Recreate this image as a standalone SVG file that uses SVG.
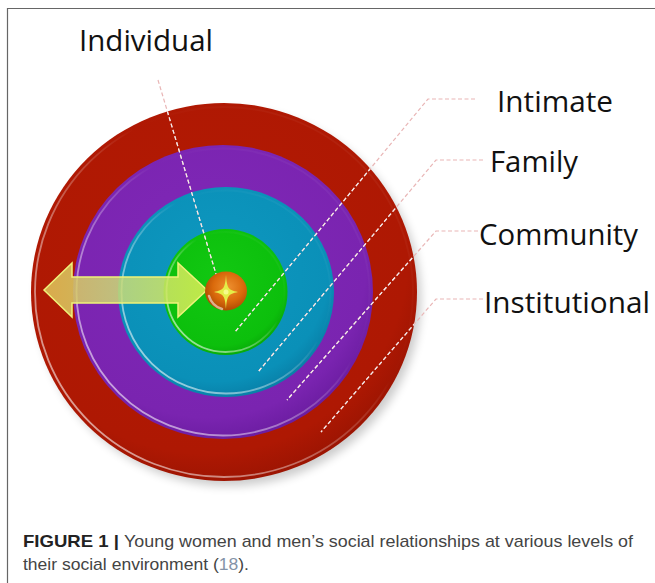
<svg xmlns="http://www.w3.org/2000/svg" width="655" height="583" viewBox="0 0 655 583">
<style>
.lbl{font-family:"Open Sans","Liberation Sans",sans-serif;font-size:29px;fill:#111;}
.cap{font-family:"Liberation Sans",Arial,sans-serif;font-size:17px;fill:#444;}
.capb{font-family:"Liberation Sans",Arial,sans-serif;font-size:17px;font-weight:bold;fill:#222;}
.dash{fill:none;stroke:#e9b6b6;stroke-width:1.2;stroke-dasharray:4 2.5;}
.dashw{fill:none;stroke:#f3ecec;stroke-width:1.2;stroke-dasharray:4 2.5;}
.rim{fill:none;stroke:url(#rimGrad);stroke-width:1.8;}
</style>
<defs>
<radialGradient id="gRed" cx="0.45" cy="0.4" r="0.62">
<stop offset="0" stop-color="#b41a03"/><stop offset="0.85" stop-color="#ae1803"/><stop offset="1" stop-color="#9a1402"/>
</radialGradient>
<radialGradient id="gPurple" cx="0.45" cy="0.4" r="0.62">
<stop offset="0" stop-color="#8028b8"/><stop offset="0.85" stop-color="#7a24b0"/><stop offset="1" stop-color="#6a1ca0"/>
</radialGradient>
<radialGradient id="gBlue" cx="0.45" cy="0.4" r="0.62">
<stop offset="0" stop-color="#0e98c0"/><stop offset="0.85" stop-color="#0a90b8"/><stop offset="1" stop-color="#087ea6"/>
</radialGradient>
<radialGradient id="gGreen" cx="0.45" cy="0.4" r="0.62">
<stop offset="0" stop-color="#12c812"/><stop offset="0.85" stop-color="#0cbf0c"/><stop offset="1" stop-color="#08a808"/>
</radialGradient>
<radialGradient id="gOrange" cx="0.55" cy="0.4" r="0.6">
<stop offset="0" stop-color="#ee9030"/><stop offset="0.6" stop-color="#da6a0c"/><stop offset="1" stop-color="#b04a02"/>
</radialGradient>
<linearGradient id="rimGrad" x1="0" y1="1" x2="1" y2="0">
<stop offset="0" stop-color="#fff" stop-opacity="0.7"/>
<stop offset="0.35" stop-color="#fff" stop-opacity="0.4"/>
<stop offset="0.6" stop-color="#fff" stop-opacity="0"/>
<stop offset="0.9" stop-color="#fff" stop-opacity="0.05"/>
<stop offset="1" stop-color="#fff" stop-opacity="0.2"/>
</linearGradient>
<linearGradient id="gArrow" x1="0" y1="0" x2="1" y2="0">
<stop offset="0" stop-color="#e2c458"/>
<stop offset="0.5" stop-color="#c9dc78"/>
<stop offset="1" stop-color="#dcf050"/>
</linearGradient>
<filter id="shadow" x="-20%" y="-20%" width="140%" height="140%">
<feGaussianBlur stdDeviation="5"/>
</filter>
<clipPath id="discClip"><ellipse cx="224" cy="292" rx="193" ry="189"/></clipPath>
</defs>

<rect width="655" height="583" fill="#fff"/>
<g id="frame">
<path d="M7.5,583 V8.5 H655" fill="none" stroke="#666" stroke-width="1.2"/>
</g>

<ellipse cx="229" cy="298" rx="192" ry="188" fill="#000" opacity="0.2" filter="url(#shadow)"/>

<g id="institutional">
<ellipse cx="224" cy="292" rx="193" ry="189" fill="url(#gRed)"/>
<ellipse class="rim" cx="224" cy="292" rx="189" ry="185"/>
</g>
<g id="community">
<ellipse cx="223" cy="292" rx="150" ry="147" fill="url(#gPurple)"/>
<ellipse class="rim" cx="223" cy="292" rx="146.5" ry="143.5"/>
</g>
<g id="family">
<ellipse cx="226" cy="292" rx="108" ry="105" fill="url(#gBlue)"/>
<ellipse class="rim" cx="226" cy="292" rx="104.5" ry="101.5"/>
</g>
<g id="intimate">
<ellipse cx="225.5" cy="292" rx="62" ry="63" fill="url(#gGreen)"/>
<ellipse class="rim" cx="225.5" cy="292" rx="59" ry="60"/>
</g>

<g id="connectors">
<path class="dash" d="M158,80 L219,284"/>
<path class="dash" d="M475,99 H428 L235,332"/>
<path class="dash" d="M483,160 H436 L258,372"/>
<path class="dash" d="M478,231 H436 L287,400"/>
<path class="dash" d="M483,299 H436 L321,432"/>
<g clip-path="url(#discClip)">
<path class="dashw" d="M158,80 L219,284"/>
<path class="dashw" d="M475,99 H428 L235,332"/>
<path class="dashw" d="M483,160 H436 L258,372"/>
<path class="dashw" d="M478,231 H436 L287,400"/>
<path class="dashw" d="M483,299 H436 L321,432"/>
</g>
</g>

<g id="arrow">
<path d="M44,290 L72,263 L72,277 L178,277 L178,263 L207,290 L178,317 L178,303 L72,303 L72,317 Z" fill="url(#gArrow)" fill-opacity="0.85" stroke="#eef27a" stroke-width="1.5" stroke-linejoin="miter"/>
</g>

<g id="individual">
<ellipse cx="226" cy="291" rx="21" ry="19.5" fill="url(#gOrange)"/>
<path d="M209,296 Q212,306 222,309" fill="none" stroke="#fff" stroke-opacity="0.55" stroke-width="2.5" stroke-linecap="round"/>
<path d="M226,275 C227,288 228,290 238,292 C228,294 227,296 226,309 C225,296 224,294 214,292 C224,290 225,288 226,275 Z" fill="#e4ee48"/>
<circle cx="226" cy="292" r="2.5" fill="#f6fc8a"/>
</g>

<g id="labels">
<text class="lbl" x="79" y="51" textLength="134" lengthAdjust="spacingAndGlyphs">Individual</text>
<text class="lbl" x="497" y="112" textLength="116" lengthAdjust="spacingAndGlyphs">Intimate</text>
<text class="lbl" x="490" y="172" textLength="88" lengthAdjust="spacingAndGlyphs">Family</text>
<text class="lbl" x="479" y="245" textLength="159" lengthAdjust="spacingAndGlyphs">Community</text>
<text class="lbl" x="484" y="313" textLength="166" lengthAdjust="spacingAndGlyphs">Institutional</text>
</g>

<g id="caption">
<text class="capb" x="23" y="547" textLength="96" lengthAdjust="spacingAndGlyphs">FIGURE 1 |</text>
<text class="cap" x="124" y="547" textLength="509" lengthAdjust="spacingAndGlyphs">Young women and men’s social relationships at various levels of</text>
<text class="cap" x="23" y="570" textLength="226" lengthAdjust="spacingAndGlyphs">their social environment (<tspan fill="#8493a8">18</tspan>).</text>
</g>
</svg>
